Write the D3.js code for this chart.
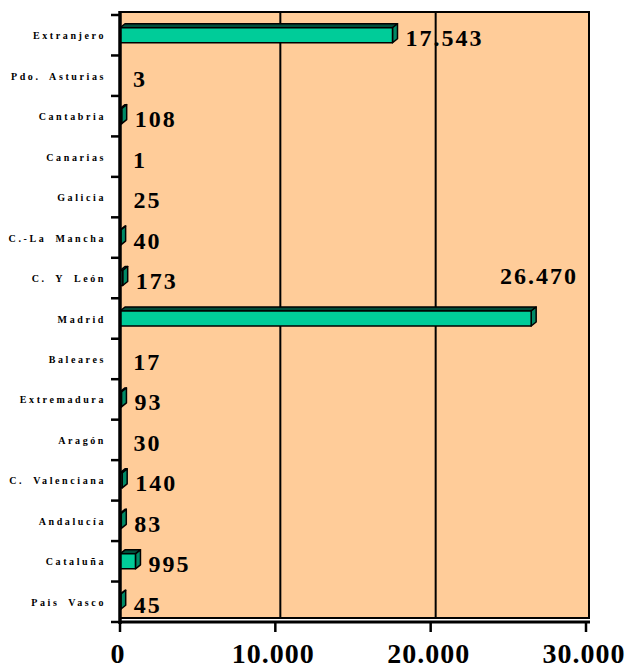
<!DOCTYPE html>
<html>
<head>
<meta charset="utf-8">
<script src="https://cdn.jsdelivr.net/npm/d3@7"></script>
<style>
  body { margin: 0; background: #fff; }
  svg { display: block; }
  text { font-family: "Liberation Serif", "Times New Roman", Times, serif; font-weight: bold; fill: #000; }
</style>
</head>
<body>
<div id="chart"></div>
<script>
(function () {
    'use strict';
    var regions = ["Extranjero", "Pdo. Asturias", "Cantabria", "Canarias", "Galicia",
            "C.-La Mancha", "C. Y León", "Madrid", "Baleares", "Extremadura",
            "Aragón", "C. Valenciana", "Andalucía", "Cataluña", "Pais Vasco"],
        totals = [17543, 3, 108, 1, 25, 40, 173, 26470, 17, 93, 30, 140, 83, 995, 45],
        xTicks = [0, 10000, 20000, 30000],
        width = 625,
        height = 668,
        left = 120,
        right = 586,
        top = 15,
        bottom = 622,
        depth = 5,     // 3D offset to the right
        rise = 3,      // 3D offset upwards
        barHalf = 7.5,
        svg, x, y, es, fmt, data, bars, labels;

    es = d3.formatLocale({decimal: ",", thousands: ".", grouping: [3], currency: ["", "€"]});
    fmt = es.format(",d");

    data = regions.map(function (r, i) {
        return {region: r, value: totals[i]};
    });

    x = d3.scaleLinear().domain([0, 30000]).range([left, right]);
    y = d3.scaleBand().domain(regions).range([top, bottom]);

    svg = d3.select("#chart").append("svg")
        .attr("width", width)
        .attr("height", height);

    // back wall
    svg.append("rect")
        .attr("x", left)
        .attr("y", top - rise)
        .attr("width", right + rise - left)
        .attr("height", bottom - top - 1)
        .attr("fill", "#FFCC99")
        .attr("stroke", "#000")
        .attr("stroke-width", 2);

    svg.selectAll("line.grid")
        .data(xTicks.slice(1, -1))
        .enter()
        .append("line")
        .attr("class", "grid")
        .attr("x1", function (d) { return x(d) + depth; })
        .attr("x2", function (d) { return x(d) + depth; })
        .attr("y1", top - rise)
        .attr("y2", bottom - 3)
        .attr("stroke", "#000")
        .attr("stroke-width", 2);

    // bars, only those wide enough to show up
    bars = svg.selectAll("g.bar")
        .data(data.filter(function (d) { return x(d.value) - x(0) >= 0.5; }))
        .enter()
        .append("g")
        .attr("class", "bar")
        .attr("stroke", "#000")
        .attr("stroke-width", 1.5)
        .attr("stroke-linejoin", "round");

    function mid(d) { return y(d.region) + y.bandwidth() / 2; }

    bars.append("path")
        .attr("fill", "#004d3a")
        .attr("d", function (d) {
            var x0 = x(0), x1 = x(d.value), t = mid(d) - barHalf;
            return "M" + x0 + "," + t + "L" + (x0 + depth) + "," + (t - 4) +
                "L" + (x1 + depth) + "," + (t - 4) + "L" + x1 + "," + t + "Z";
        });

    bars.append("path")
        .attr("fill", "#008a66")
        .attr("d", function (d) {
            var x1 = x(d.value), t = mid(d) - barHalf, b = mid(d) + barHalf;
            return "M" + x1 + "," + t + "L" + (x1 + depth) + "," + (t - 4) +
                "L" + (x1 + depth) + "," + (b - 4) + "L" + x1 + "," + b + "Z";
        });

    bars.append("rect")
        .attr("fill", "#00CC99")
        .attr("x", x(0))
        .attr("y", function (d) { return mid(d) - barHalf; })
        .attr("width", function (d) { return x(d.value) - x(0); })
        .attr("height", barHalf * 2);

    // axes
    svg.append("line")
        .attr("x1", left).attr("x2", left)
        .attr("y1", top - rise - 1).attr("y2", bottom + 2)
        .attr("stroke", "#000").attr("stroke-width", 3.5);

    svg.append("line")
        .attr("x1", left).attr("x2", right + rise + 1)
        .attr("y1", bottom).attr("y2", bottom)
        .attr("stroke", "#000").attr("stroke-width", 3);

    svg.selectAll("line.ytick")
        .data(d3.range(regions.length + 1))
        .enter()
        .append("line")
        .attr("class", "ytick")
        .attr("x1", left - 9).attr("x2", left)
        .attr("y1", function (i) { return top + i * y.step(); })
        .attr("y2", function (i) { return top + i * y.step(); })
        .attr("stroke", "#000").attr("stroke-width", 2.5);

    svg.selectAll("line.xtick")
        .data(xTicks)
        .enter()
        .append("line")
        .attr("class", "xtick")
        .attr("x1", function (d) { return x(d); })
        .attr("x2", function (d) { return x(d); })
        .attr("y1", bottom).attr("y2", bottom + 10)
        .attr("stroke", "#000").attr("stroke-width", 2.5);

    svg.selectAll("text.xlab")
        .data(xTicks)
        .enter()
        .append("text")
        .attr("class", "xlab")
        .attr("x", function (d) { return x(d) - 2; })
        .attr("y", 663)
        .attr("text-anchor", "middle")
        .style("font-size", "28px")
        .style("letter-spacing", "1px")
        .text(function (d) { return fmt(d); });

    svg.selectAll("text.ylab")
        .data(regions)
        .enter()
        .append("text")
        .attr("class", "ylab")
        .attr("x", 106)
        .attr("y", function (d) { return y(d) + y.bandwidth() / 2 + 4; })
        .attr("text-anchor", "end")
        .style("font-size", "10px")
        .style("letter-spacing", "2.6px")
        .style("word-spacing", "4px")
        .text(function (d) { return d; });

    // value labels; the one that would run off the wall sits above its bar
    labels = svg.selectAll("text.val")
        .data(data)
        .enter()
        .append("text")
        .attr("class", "val")
        .style("font-size", "24px")
        .style("letter-spacing", "2px")
        .text(function (d) { return fmt(d.value); });

    labels.each(function (d) {
        var node = d3.select(this),
            w = this.getComputedTextLength(),
            lx = x(d.value) + depth + 8;
        if (lx + w > right) {
            node.attr("x", right - 8).attr("y", mid(d) - 35).attr("text-anchor", "end");
        } else {
            node.attr("x", lx).attr("y", mid(d) + 11);
        }
    });
}());
</script>
</body>
</html>
